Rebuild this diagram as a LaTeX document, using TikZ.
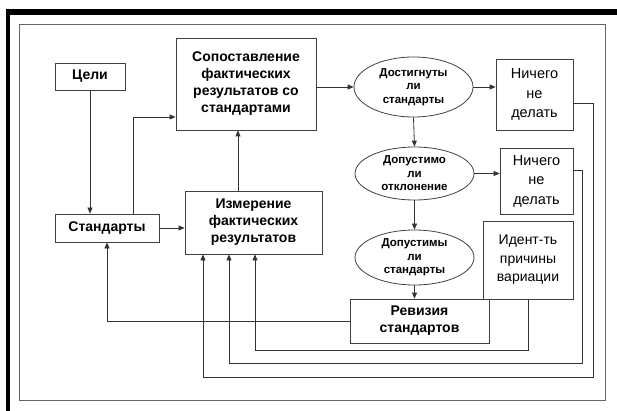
\documentclass[tikz,border=0pt]{standalone}
\usepackage{fontspec}
\setmainfont{Liberation Sans}
\usetikzlibrary{calc,arrows.meta,shapes.geometric,positioning}
\tikzset{box/.style={draw=black!75, line width=0.8pt, rectangle, inner sep=0pt, align=center, font=\bfseries\fontsize{14}{17}\selectfont}, plain/.style={box, font=\fontsize{14.5}{19.5}\selectfont}, ask/.style={draw=black!75, line width=0.8pt, ellipse, inner sep=0pt, align=center, minimum width=119pt, font=\bfseries\fontsize{11.5}{13.5}\selectfont}, link/.style={draw=black!80, line width=0.8pt, -{Triangle[length=6pt,width=5pt]}}}

\begin{document}
\begin{tikzpicture}[x=1pt,y=-1pt]
    \useasboundingbox (0,0) rectangle (617,411);
    \fill (6,9) rectangle (617,15);
    \fill (6,9) rectangle (10,411);
    \draw[black!60, line width=0.8pt] (19,24) rectangle (605,400);
    \node[box, minimum width=70pt, minimum height=27pt] (Goal) at (90,76.5) {Цели};
    \node[box, minimum width=104pt, minimum height=28pt] (Std) at (107,228) {Стандарты};
    \node[box, minimum width=140pt, minimum height=92pt] (Cmp) at (246,84) {Сопоставление\\фактических\\результатов со\\стандартами};
    \node[box, minimum width=137pt, minimum height=63pt] (Meas) at (253.5,222.5) {Измерение\\фактических\\результатов};
    \node[ask, minimum height=60pt] (Q1) at (413.5,87) {Достигнуты\\ли\\стандарты};
    \node[ask, minimum height=53pt] (Q2) at (414.5,173.5) {Допустимо\\ли\\отклонение};
    \node[ask, minimum height=55pt] (Q3) at (414.5,257.5) {Допустимы\\ли\\стандарты};
    \node[plain, minimum width=77pt, minimum height=71pt] (N1) at (534.5,94.5) {Ничего\\не\\делать};
    \node[plain, minimum width=73pt, minimum height=66pt] (N2) at (536.5,181) {Ничего\\не\\делать};
    \node[plain, font=\fontsize{14}{18.5}\selectfont, minimum width=90pt, minimum height=78pt] (Id) at (528,260) {Идент-ть\\причины\\вариации};
    \node[box, minimum width=139pt, minimum height=44pt] (Rev) at (419.5,321) {Ревизия\\стандартов};
    \coordinate (up) at ($(Cmp.south)+(-8,0)$);
    \draw[link] (Goal.south) -- (Goal.south |- Std.north);
    \draw[link] ($(Std.north)+(26,0)$) |- ($(Cmp.west)+(0,33)$);
    \draw[link] (Std.east) -- (Std.east -| Meas.west);
    \draw[link] (Meas.north -| up) -- (up);
    \draw[link] (Cmp.east |- Q1.west) -- (Q1.west);
    \draw[link] (Q1.east) -- (Q1.east -| N1.west);
    \draw[link] (Q1.south) -- (Q2.north);
    \draw[link] (Q2.east) -- (Q2.east -| N2.west);
    \draw[link] (Q2.south) -- (Q3.north);
    \draw[link] (Q3.south) -- (Q3.south |- Rev.north);
    \draw[link] (Rev.west) -| (Std.south);
    \draw[link] (Id.south) -- ++(0,51) -| ($(Meas.south)+(1.5,0)$);
    \draw[link] ($(N2.east)+(0,-11)$) -- ++(9,0) -- ++(0,193) -| ($(Meas.south)+(-24.5,0)$);
    \draw[link] ($(N1.east)+(0,8.5)$) -- ++(20,0) -- ++(0,274) -| ($(Meas.south)+(-50.5,0)$);
\end{tikzpicture}
\end{document}
